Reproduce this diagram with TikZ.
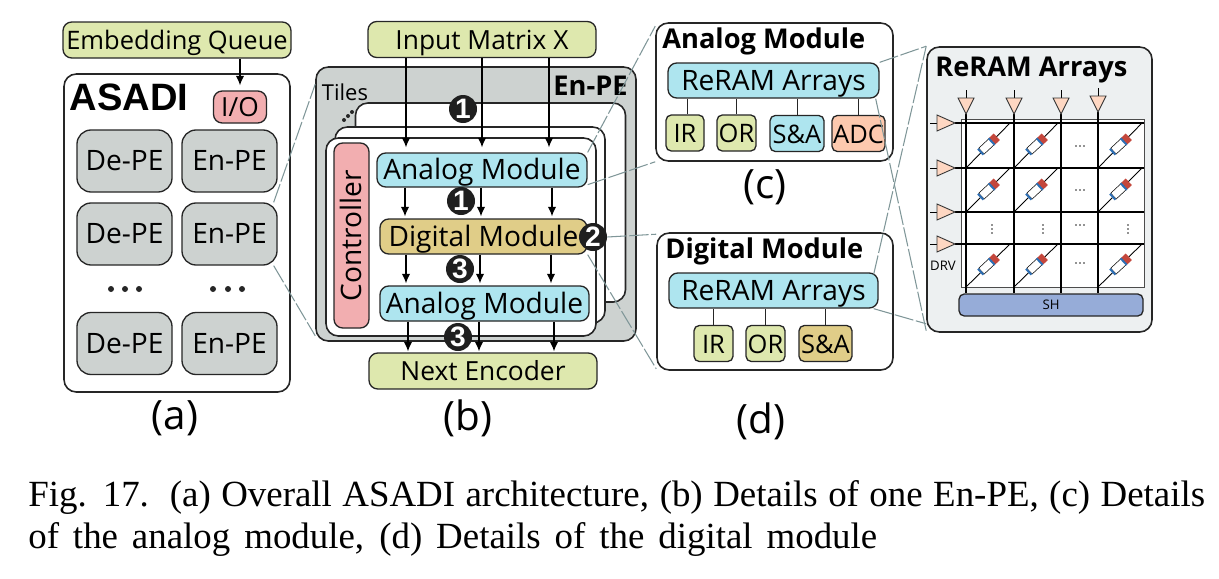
\documentclass[tikz,border=0pt]{standalone}
\usepackage{fontspec}
\setmainfont{Open Sans}
\newfontfamily\capfont{Liberation Serif}
\newfontfamily\headfont{Liberation Sans}
\usetikzlibrary{arrows.meta,positioning,shapes.geometric}
\definecolor{boxgreen}{HTML}{DEE8AE}
\definecolor{boxblue}{HTML}{AEE5EF}
\definecolor{boxgold}{HTML}{E0CD88}
\definecolor{boxpink}{HTML}{F2AEB0}
\definecolor{boxgray}{HTML}{CDD2D0}
\definecolor{boxorange}{HTML}{FDC9AE}
\definecolor{boxsh}{HTML}{96ACD8}
\definecolor{panelgray}{HTML}{EDF0F1}
\definecolor{linkgray}{HTML}{7F9698}
\definecolor{diodered}{HTML}{C4473C}
\definecolor{diodeblue}{HTML}{2E6FB5}
\def\px{0.02cm}
\tikzset{
  unit/.style={draw=black!85,line width=0.75pt,rounded corners=5pt,inner sep=0pt,text height=11pt,text depth=0pt,font=\fontsize{15}{18}\selectfont},
  peunit/.style={unit,fill=boxgray,rounded corners=8pt,minimum width=95*\px,minimum height=62*\px,font=\fontsize{16}{19}\selectfont},
  greenbox/.style={unit,fill=boxgreen,minimum width=228*\px,minimum height=36*\px},
  modbox/.style={unit,minimum width=209*\px,minimum height=35*\px,font=\fontsize{16}{19}\selectfont},
  smallbox/.style={unit,minimum height=36*\px,fill=boxgreen,rounded corners=3pt,font=\fontsize{14.5}{17}\selectfont},
  panel/.style={draw=black!85,line width=0.9pt,rounded corners=7pt,inner sep=0pt,fill=white},
  tile/.style={panel,minimum width=270*\px,minimum height=199*\px},
  badge/.style={circle,fill=black!88,text=white,inner sep=0pt,minimum size=28*\px,font=\headfont\bfseries\fontsize{16}{18}\selectfont},
  flow/.style={-{Latex[length=1.9mm,width=1.7mm]},line width=0.8pt,shorten >=5*\px},
  wire/.style={line width=0.5pt,draw=black!85},
  link/.style={draw=linkgray,line width=0.6pt,dash pattern=on 11pt off 1.5pt},
  amp/.style={draw=black!80,line width=0.5pt,fill=boxorange!75},
  title/.style={inner sep=0pt,text height=11pt,text depth=0pt,font=\bfseries\fontsize{15.5}{19}\selectfont},
  tag/.style={inner sep=0pt,font=\fontsize{23}{26}\selectfont},
}
\newcommand{\diode}[2]{%
  \begin{scope}[shift={(#1,#2)},rotate=43]
    \draw[line width=0.3pt,fill=white] (-9,-4) rectangle (6,4);
    \fill[diodered] (6,-4.5) rectangle (12,4.5);
    \fill[diodeblue] (4,-4.5) rectangle (6,4.5);
    \fill[diodeblue] (-11,-4) rectangle (-9,4);
  \end{scope}}
\begin{document}
\begin{tikzpicture}[x=0.02cm,y=-0.02cm,>=Latex]
\useasboundingbox (0,0) rectangle (1219,578);

\node[panel,minimum width=226*\px,minimum height=318*\px] (asadi) at (177,233) {};
\node[greenbox,font=\fontsize{14.5}{18}\selectfont] (queue) at (177,40) {Embedding Queue};
\node[inner sep=0pt,font=\headfont\bfseries\fontsize{21.7}{25}\selectfont] (asaditxt) at (129,97) {ASADI};
\node[unit,fill=boxpink,minimum width=53*\px,minimum height=32*\px] (io) at (240,107) {I/O};
\node[peunit] (de1) at (124.5,161) {De-PE};
\node[peunit] (en1) at (229.5,161) {En-PE};
\node[peunit] (de2) at (124.5,234) {De-PE};
\node[peunit] (en2) at (229.5,234) {En-PE};
\node[peunit] (de3) at (124.5,343.5) {De-PE};
\node[peunit] (en3) at (229.5,343.5) {En-PE};
\foreach \dotx in {111,125,139,213,228,242}
  \fill[black!85] (\dotx,289) circle (3);
\draw[flow] (queue.south -| io.north) -- (io.north);

\node[panel,fill=boxgray,minimum width=320*\px,minimum height=274*\px] (enpe) at (476,204) {};
\node[inner sep=0pt,anchor=east,font=\bfseries\fontsize{15.5}{18}\selectfont] (enpetxt) at (628,86) {En-PE};
\node[inner sep=0pt,font=\fontsize{12.5}{15}\selectfont] (tiles) at (345,92) {Tiles};
\foreach \dotk in {0,1,2}
  \fill[black!85] (344+4*\dotk,120-4*\dotk) circle (2);
\node[tile] (tile3) at (490.5,202.5) {};
\node[tile,minimum height=196*\px] (tile2) at (470,225) {};
\node[tile,minimum height=198*\px] (tile1) at (461,237) {};
\node[unit,fill=boxpink,minimum width=185*\px,minimum height=35*\px,rotate=90,font=\fontsize{16}{19}\selectfont] (ctrl) at (351.5,235.5) {Controller};
\node[modbox,fill=boxblue,minimum width=210*\px,minimum height=34*\px] (ana1) at (482,170) {Analog Module};
\node[modbox,fill=boxgold,minimum width=207*\px] (digi) at (483.5,236.5) {Digital Module};
\node[modbox,fill=boxblue] (ana2) at (484.5,303.5) {Analog Module};
\node[greenbox] (inmat) at (482,39.5) {Input Matrix X};
\node[greenbox] (nextenc) at (483,371) {Next Encoder};
\foreach \flowa/\flowb/\flowc/\flowd in {406/405/406/408,482/481/480/479,549/552/551/554}{
  \draw[flow] (\flowa,0 |- inmat.south) -- (\flowa,0 |- ana1.north);
  \draw[flow,shorten >=2*\px] (\flowb,0 |- ana1.south) -- (\flowb,0 |- digi.north);
  \draw[flow,shorten >=2*\px] (\flowc,0 |- digi.south) -- (\flowc,0 |- ana2.north);
  \draw[flow,shorten >=1*\px] (\flowd,0 |- ana2.south) -- (\flowd,0 |- nextenc.north);
}
\node[badge] (n1a) at (463,109) {1};
\node[badge] (n1b) at (461,201) {1};
\node[badge] (n2) at (593,237) {2};
\node[badge] (n3a) at (460,269) {3};
\node[badge] (n3b) at (458,337) {3};

\node[panel,minimum width=237*\px,minimum height=138*\px] (anapanel) at (774.5,92) {};
\node[title,anchor=west] (anatitle) at (662,39) {Analog Module};
\node[modbox,fill=boxblue,minimum width=211*\px] (rerama) at (773.5,80.5) {ReRAM Arrays};
\node[smallbox,minimum width=38*\px] (ir1) at (685,133) {IR};
\node[smallbox,minimum width=39*\px] (or1) at (736.5,133) {OR};
\node[smallbox,minimum width=54*\px,fill=boxblue] (sa1) at (797,133.5) {S\&A};
\node[smallbox,minimum width=53*\px,fill=boxorange] (adc) at (858.5,133.5) {ADC};
\draw[wire] (687,0 |- ir1.north) -- (687,0 |- rerama.south);
\draw[wire] (or1.north) -- (or1.north |- rerama.south);
\draw[wire] (sa1.north) -- (sa1.north |- rerama.south);
\draw[wire] (adc.north) -- (adc.north |- rerama.south);

\node[panel,minimum width=236*\px,minimum height=137*\px] (digipanel) at (775,301.5) {};
\node[title,anchor=west] (digititle) at (665,249) {Digital Module};
\node[modbox,fill=boxblue] (reramd) at (773.5,290.5) {ReRAM Arrays};
\node[smallbox,minimum width=39*\px] (ir2) at (713.5,343.5) {IR};
\node[smallbox,minimum width=39*\px] (or2) at (765.5,343.5) {OR};
\node[smallbox,minimum width=53*\px,fill=boxgold] (sa2) at (825.5,343.5) {S\&A};
\draw[wire] (ir2.north) -- (ir2.north |- reramd.south);
\draw[wire] (or2.north) -- (or2.north |- reramd.south);
\draw[wire] (sa2.north) -- (sa2.north |- reramd.south);

\node[panel,fill=panelgray,minimum width=225*\px,minimum height=285*\px] (arrays) at (1039.5,189.5) {};
\node[title,anchor=west] (arraystitle) at (935,67) {ReRAM Arrays};
\node[draw=black!70,line width=0.5pt,fill=white,inner sep=0pt,minimum width=183*\px,minimum height=168*\px] (grid) at (1052.5,203) {};
\node[unit,fill=boxsh,rounded corners=3pt,minimum width=184*\px,minimum height=22*\px,text height=5.4pt,font=\fontsize{7.5}{9}\selectfont] (sh) at (1051,305) {SH};
\node[inner sep=0pt,font=\fontsize{7.5}{9}\selectfont] (drv) at (943,266) {DRV};
\foreach \colx/\coltop in {966/98,1014/98,1061/98,1098/96}{
  \draw[line width=0.8pt] (\colx,\coltop+16) -- (\colx,0 |- sh.north);
  \draw[line width=0.5pt] (\colx,\coltop-8) -- (\colx,\coltop);
  \draw[amp] (\colx-8,\coltop) -- (\colx+8,\coltop) -- (\colx,\coltop+16) -- cycle;
}
\foreach \rowy in {123,168,212,244}{
  \draw[line width=0.8pt] (955,\rowy) -- (grid.east |- 0,\rowy);
  \draw[line width=0.5pt] (930,\rowy) -- (937,\rowy);
  \draw[amp] (937,\rowy-8) -- (937,\rowy+8) -- (955,\rowy) -- cycle;
}
\foreach \cellx in {966,1014,1098}
  \foreach \celltop/\cellbot/\cellmid in {123/168/145,168/212/190,244/287/265}{
    \draw[line width=0.5pt] (\cellx,\cellbot) -- (\cellx+44,\celltop);
    \pgfmathsetmacro{\diodex}{\cellx+22}
    \diode{\diodex}{\cellmid}
  }
\foreach \dotsy in {146,190,225,263}
  \foreach \dotsx in {-4,0,4}
    \fill[black!85] (1080+\dotsx,\dotsy) circle (0.9);
\foreach \dotsx in {992,1043,1128}
  \foreach \dotsy in {-4,0,4}
    \fill[black!85] (\dotsx,229+\dotsy) circle (0.9);

\draw[link] ([xshift=-4*\px]en2.north east) -- ([yshift=-18*\px]enpe.north west);
\draw[link] ([xshift=-4*\px]en2.south east) -- ([yshift=6*\px]enpe.south west);
\draw[link] (ana1.north east) -- ([yshift=-4*\px]anapanel.north west);
\draw[link] ([yshift=3*\px]ana1.south east) -- (anapanel.south west);
\draw[link] (n2.east) -- ([yshift=-2*\px]digipanel.north west);
\draw[link] (digi.south east) -- ([yshift=2*\px]digipanel.south west);
\draw[link] (rerama.north east) -- (arrays.north west);
\draw[link] ([xshift=-4*\px]rerama.south east) -- ([yshift=2*\px]arrays.south west);
\draw[link] ([xshift=-5*\px,yshift=-2*\px]reramd.north east) -- (arrays.north west);
\draw[link] ([xshift=-5*\px]reramd.south east) -- ([yshift=9*\px]arrays.south west);

\node[tag] (taga) at (175,418) {(a)};
\node[tag] (tagb) at (468,418) {(b)};
\node[tag] (tagc) at (765,187) {(c)};
\node[tag] (tagd) at (761,421) {(d)};

\node[inner sep=0pt,anchor=base west,font=\capfont\fontsize{21}{24}\selectfont] (capone) at (28,506) {\hbox to 23.54cm{Fig. 17.\ \ (a) Overall ASADI architecture, (b) Details of one En-PE, (c) Details}};
\node[inner sep=0pt,anchor=base west,font=\capfont\fontsize{21}{24}\selectfont] (captwo) at (28,548) {\hbox to 16.98cm{of the analog module, (d) Details of the digital module}};
\end{tikzpicture}
\end{document}
